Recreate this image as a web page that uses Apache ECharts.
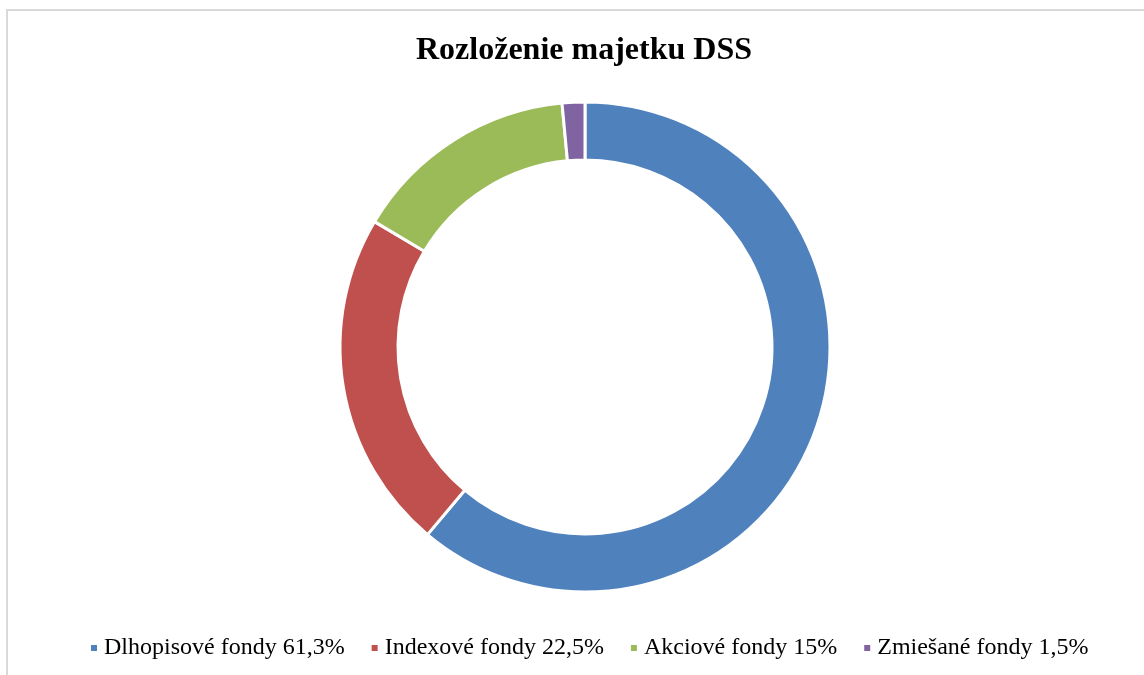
<!DOCTYPE html>
<html>
<head>
<meta charset="utf-8">
<script src="https://cdn.jsdelivr.net/npm/echarts@6/dist/echarts.min.js"></script>
<style>
  html, body { margin: 0; padding: 0; background: #fff; }
  #frame { position: absolute; left: 6px; top: 9px; width: 1200px; height: 700px; border: 2px solid #d9d9d9; }
  #chart { position: absolute; left: 0; top: 0; width: 1144px; height: 675px; }
</style>
</head>
<body>
<div id="frame"></div>
<div id="chart"></div>
<script>
  // data
  const categories = ['Dlhopisové fondy', 'Indexové fondy', 'Akciové fondy', 'Zmiešané fondy']
  const shares = [61.3, 22.5, 15, 1.5]
  const colors = ['#4f81bd', '#c0504d', '#9bbb59', '#8064a2']

  const chart = echarts.init(document.getElementById('chart'))
  const serif = '"Liberation Serif", "DejaVu Serif", serif'

  const fmt = function (v) {
    return String(v).replace('.', ',') + '%'
  }

  chart.setOption({
    animation: false,
    color: colors,
    title: {
      text: 'Rozloženie majetku DSS',
      left: 411,
      top: 30,
      textStyle: { fontFamily: serif, fontSize: 32, fontWeight: 'bold', color: '#000' }
    },
    legend: {
      bottom: 10,
      left: 84,
      itemWidth: 8,
      itemHeight: 8,
      itemGap: 25,
      icon: 'rect',
      textStyle: { fontFamily: serif, fontSize: 24, color: '#000', padding: [0, 0, 0, 1] },
      formatter: function (name) {
        const i = categories.indexOf(name)
        return name + ' ' + fmt(shares[i])
      }
    },
    series: [{
      type: 'pie',
      center: [585, 347],
      radius: [187, 245],
      startAngle: 90,
      clockwise: true,
      label: { show: false },
      labelLine: { show: false },
      itemStyle: { borderColor: '#fff', borderWidth: 3 },
      emphasis: { disabled: true },
      data: categories.map(function (c, i) {
        return { name: c, value: shares[i] }
      })
    }]
  })
</script>
</body>
</html>
